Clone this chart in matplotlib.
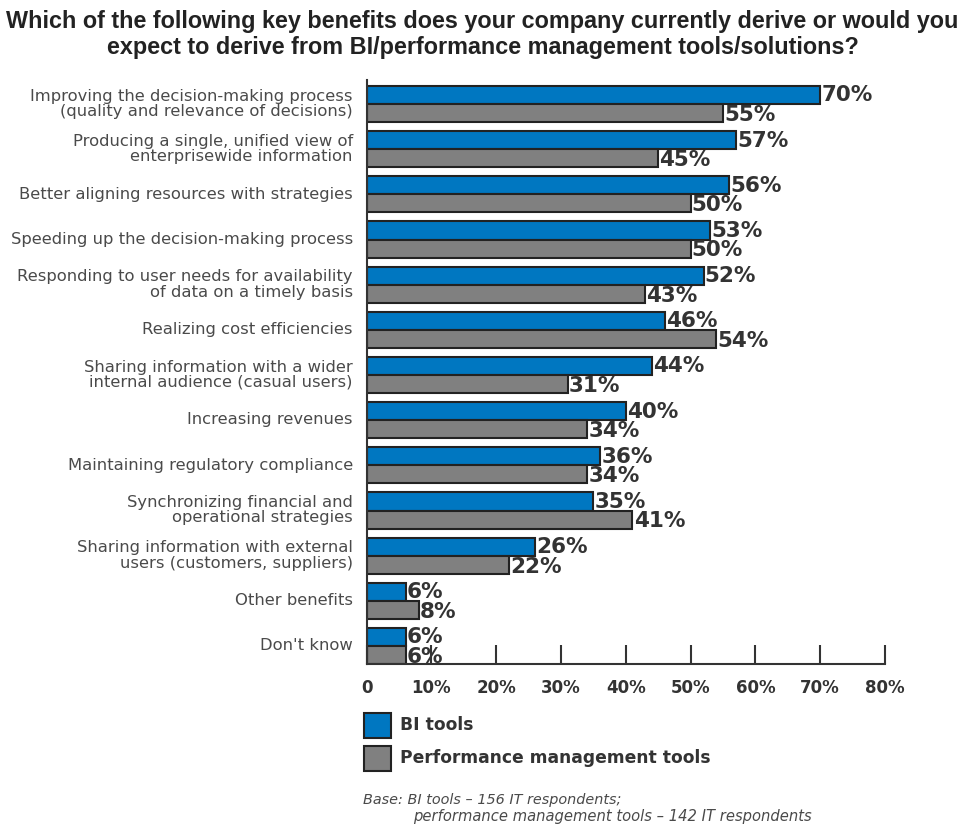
import matplotlib.pyplot as plt
import numpy as np
from matplotlib.patches import Rectangle

# данные
categories = [
    "Improving the decision-making process\n(quality and relevance of decisions)",
    "Producing a single, unified view of\nenterprisewide information",
    "Better aligning resources with strategies",
    "Speeding up the decision-making process",
    "Responding to user needs for availability\nof data on a timely basis",
    "Realizing cost efficiencies",
    "Sharing information with a wider\ninternal audience (casual users)",
    "Increasing revenues",
    "Maintaining regulatory compliance",
    "Synchronizing financial and\noperational strategies",
    "Sharing information with external\nusers (customers, suppliers)",
    "Other benefits",
    "Don't know",
]
bi_tools = [70, 57, 56, 53, 52, 46, 44, 40, 36, 35, 26, 6, 6]
pm_tools = [55, 45, 50, 50, 43, 54, 31, 34, 34, 41, 22, 8, 6]
x_ticks = [0, 10, 20, 30, 40, 50, 60, 70, 80]
x_labels = ["0", "10%", "20%", "30%", "40%", "50%", "60%", "70%", "80%"]

BLUE = "#0077c1"
GRAY = "#808080"
EDGE = "#222222"
TXT = "#4a4a4a"
DARK = "#333333"
FONT = "DejaVu Sans"

fig = plt.figure(figsize=(9.65, 8.26), dpi=100)
ax = fig.add_axes([0.380, 0.196, 0.537, 0.707])

y = np.arange(len(categories))
h = 0.4
ax.barh(y - h / 2, bi_tools, height=h, color=BLUE, edgecolor=EDGE, linewidth=1.5)
ax.barh(y + h / 2, pm_tools, height=h, color=GRAY, edgecolor=EDGE, linewidth=1.5)

for yi, v in zip(y, bi_tools):
    ax.text(v + 0.2, yi - h / 2 + 0.01, f"{v}%", va="center", ha="left",
            fontsize=15.5, fontweight="bold", color=DARK, family=FONT)
for yi, v in zip(y, pm_tools):
    ax.text(v + 0.2, yi + h / 2 + 0.04, f"{v}%", va="center", ha="left",
            fontsize=15.5, fontweight="bold", color=DARK, family=FONT)

ax.set_xlim(0, 80)
ax.set_ylim(len(categories) - 1 + 0.4, -0.53)
ax.set_yticks(y - 0.04)
ax.set_yticklabels(categories, fontsize=11.8, color=TXT, family=FONT, linespacing=1.02)
ax.tick_params(axis="y", length=0, pad=10)
ax.set_xticks(x_ticks)
ax.set_xticklabels(x_labels, fontsize=12, fontweight="bold", color=DARK, family=FONT)
ax.tick_params(axis="x", direction="in", length=14, width=1.5, color=DARK, pad=11)
for s in ["top", "right"]:
    ax.spines[s].set_visible(False)
for s in ["left", "bottom"]:
    ax.spines[s].set_linewidth(1.5)
    ax.spines[s].set_color(DARK)

fig.text(0.5, 0.988, "Which of the following key benefits does your company currently derive or would you\n"
         "expect to derive from BI/performance management tools/solutions?",
         ha="center", va="top", fontsize=16.8, fontweight="bold", color="#222222",
         family="Liberation Sans", linespacing=1.18)

# легенда
for yy, c, lab in [(0.122, BLUE, "BI tools"), (0.082, GRAY, "Performance management tools")]:
    fig.patches.append(Rectangle((0.377, yy - 0.015), 0.028, 0.030, transform=fig.transFigure,
                                 facecolor=c, edgecolor=EDGE, linewidth=1.5))
    fig.text(0.414, yy, lab, ha="left", va="center", fontsize=12.3, fontweight="bold",
             color=DARK, family=FONT)

fig.text(0.376, 0.031, "Base: BI tools \u2013 156 IT respondents;", ha="left", va="center",
         fontsize=10.4, style="italic", color=TXT, family=FONT)
fig.text(0.428, 0.011, "performance management tools \u2013 142 IT respondents", ha="left", va="center",
         fontsize=10.6, style="italic", color=TXT, family=FONT)

fig.savefig("out.png", dpi=100)
